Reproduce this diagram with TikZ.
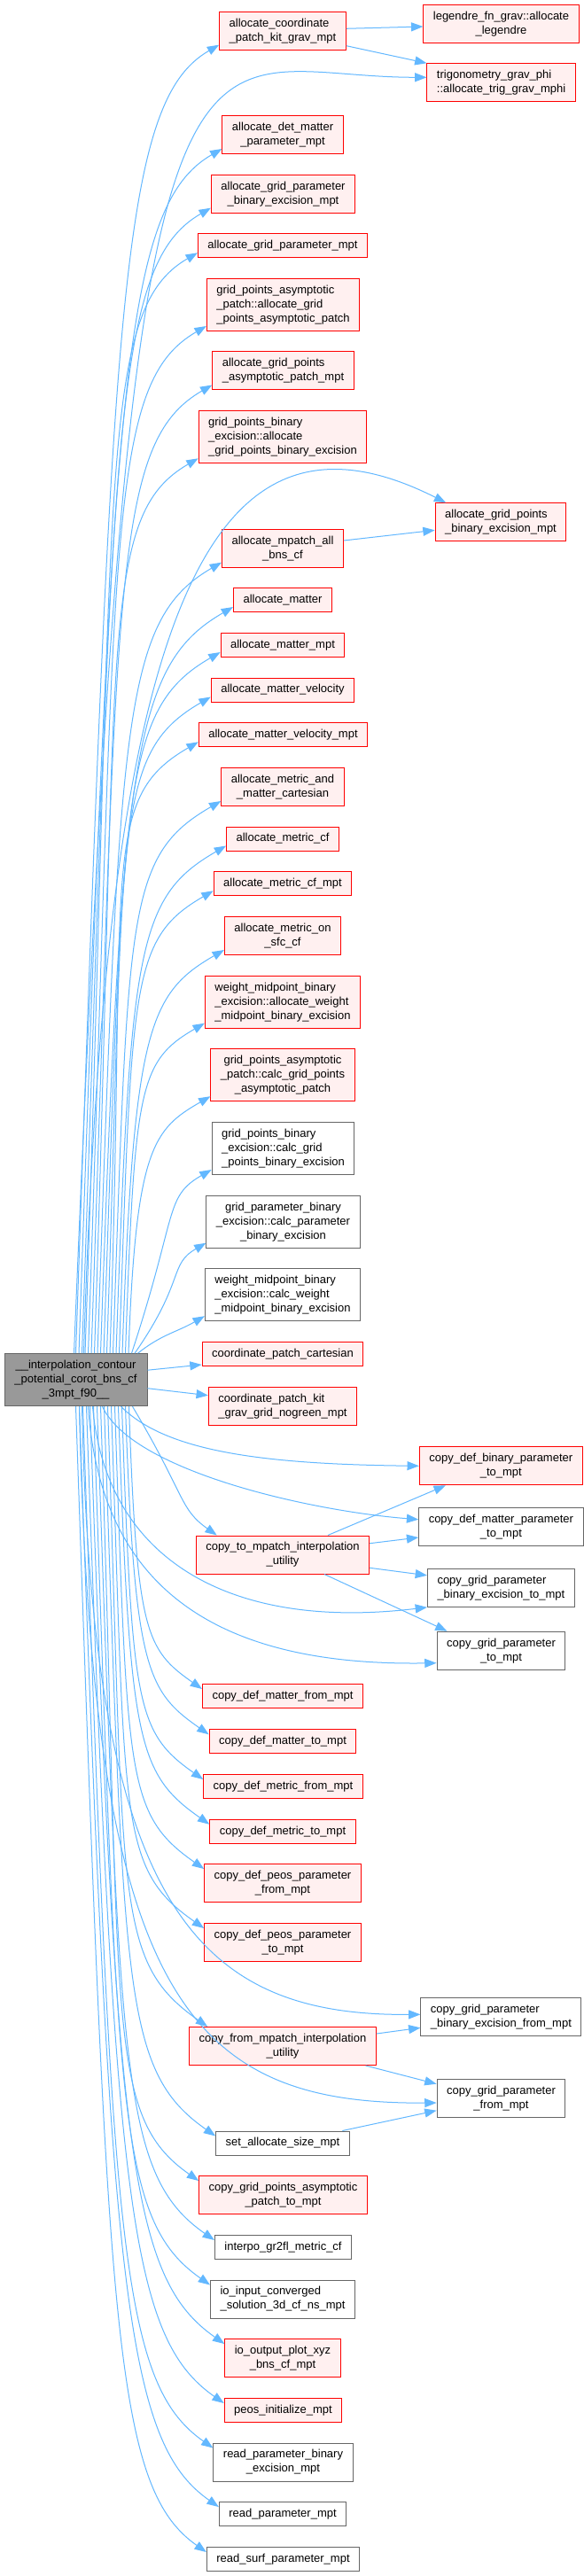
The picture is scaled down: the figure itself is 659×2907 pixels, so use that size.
\documentclass[tikz,border=0pt]{standalone}
\usepackage{fontspec}
\setmainfont{Liberation Sans}
\usetikzlibrary{arrows.meta}

\definecolor{callblue}{HTML}{63B8FF}
\definecolor{fnfill}{HTML}{FFF0F0}
\definecolor{fnred}{HTML}{FF0000}
\definecolor{extgray}{HTML}{666666}
\definecolor{rootfill}{HTML}{999999}

\tikzset{
  fn/.style={draw=fnred, fill=fnfill, line width=0.75pt, inner xsep=8.25pt, inner ysep=0pt,
    font=\fontsize{9.75pt}{12pt}\selectfont, align=center},
  ext/.style={fn, draw=extgray, fill=white},
  root/.style={fn, draw=extgray, fill=rootfill, minimum width=120.75pt},
  oneline/.style={minimum height=20.25pt},
  twoline/.style={minimum height=32.25pt},
  threeline/.style={minimum height=44.25pt},
  call/.style={draw=callblue, line width=0.75pt, -{Triangle[length=10pt,width=7.5pt]}},
}

\begin{document}
\begin{tikzpicture}[x=0.75pt, y=-0.75pt]
    \useasboundingbox (0,0) rectangle (659,2907);
    \fill[white] (0,0) rectangle (659,2907);

    % caller
    \node[root,threeline] (mainfn) at (85.5,1557.2) {\_\_interpolation\_contour\\\_potential\_corot\_bns\_cf\\\_3mpt\_f90\_\_};

    % called functions, middle column
    \node[fn,twoline,align=left] (ackg) at (319,34.7) {allocate\_coordinate\\\_patch\_kit\_grav\_mpt};
    \node[fn,twoline] (adm) at (319,152) {allocate\_det\_matter\\\_parameter\_mpt};
    \node[fn,twoline] (agpbe) at (319.5,218.7) {allocate\_grid\_parameter\\\_binary\_excision\_mpt};
    \node[fn,oneline] (agp) at (319,277.3) {allocate\_grid\_parameter\_mpt};
    \node[fn,threeline,align=left] (gpaa) at (319.5,344) {grid\_points\_asymptotic\\\_patch::allocate\_grid\\\_points\_asymptotic\_patch};
    \node[fn,twoline,align=left] (agpa) at (319.5,418.5) {allocate\_grid\_points\\\_asymptotic\_patch\_mpt};
    \node[fn,threeline,align=left] (gpbea) at (319,493.3) {grid\_points\_binary\\\_excision::allocate\\\_grid\_points\_binary\_excision};
    \node[fn,twoline] (ampa) at (319,618.7) {allocate\_mpatch\_all\\\_bns\_cf};
    \node[fn,oneline] (am) at (319,677) {allocate\_matter};
    \node[fn,oneline] (amm) at (319,728) {allocate\_matter\_mpt};
    \node[fn,oneline] (amv) at (319,778.5) {allocate\_matter\_velocity};
    \node[fn,oneline] (amvm) at (319.5,829.3) {allocate\_matter\_velocity\_mpt};
    \node[fn,twoline] (amet) at (319,888) {allocate\_metric\_and\\\_matter\_cartesian};
    \node[fn,oneline] (amcf) at (319,946.5) {allocate\_metric\_cf};
    \node[fn,oneline] (amcfm) at (319,997.3) {allocate\_metric\_cf\_mpt};
    \node[fn,twoline] (amsfc) at (319,1056) {allocate\_metric\_on\\\_sfc\_cf};
    \node[fn,threeline,align=left] (wmba) at (319,1130.7) {weight\_midpoint\_binary\\\_excision::allocate\_weight\\\_midpoint\_binary\_excision};
    \node[fn,threeline] (gpac) at (319,1213.2) {grid\_points\_asymptotic\\\_patch::calc\_grid\_points\\\_asymptotic\_patch};
    \node[ext,threeline,align=left] (gpbec) at (319.5,1296) {grid\_points\_binary\\\_excision::calc\_grid\\\_points\_binary\_excision};
    \node[ext,threeline] (gpbepc) at (319.5,1378.7) {grid\_parameter\_binary\\\_excision::calc\_parameter\\\_binary\_excision};
    \node[ext,threeline,align=left] (wmbc) at (319,1461.2) {weight\_midpoint\_binary\\\_excision::calc\_weight\\\_midpoint\_binary\_excision};
    \node[fn,oneline] (cpc) at (319,1528) {coordinate\_patch\_cartesian};
    \node[fn,twoline,align=left] (cknm) at (319,1586.7) {coordinate\_patch\_kit\\\_grav\_grid\_nogreen\_mpt};
    \node[fn,twoline] (c2m) at (319,1754.5) {copy\_to\_mpatch\_interpolation\\\_utility};
    \node[fn,oneline] (cdmf) at (319,1914) {copy\_def\_matter\_from\_mpt};
    \node[fn,oneline] (cdmt) at (319,1965.3) {copy\_def\_matter\_to\_mpt};
    \node[fn,oneline] (cdgf) at (319.5,2016) {copy\_def\_metric\_from\_mpt};
    \node[fn,oneline] (cdgt) at (319,2066.7) {copy\_def\_metric\_to\_mpt};
    \node[fn,twoline] (cdpf) at (319,2125) {copy\_def\_peos\_parameter\\\_from\_mpt};
    \node[fn,twoline] (cdpt) at (319,2192) {copy\_def\_peos\_parameter\\\_to\_mpt};
    \node[fn,twoline] (cfm) at (319,2309) {copy\_from\_mpatch\_interpolation\\\_utility};
    \node[ext,oneline] (sas) at (319,2418.5) {set\_allocate\_size\_mpt};
    \node[fn,twoline] (cgpa) at (319.5,2477) {copy\_grid\_points\_asymptotic\\\_patch\_to\_mpt};
    \node[ext,oneline] (igm) at (319.5,2536) {interpo\_gr2fl\_metric\_cf};
    \node[ext,twoline,align=left] (iic) at (319,2594.5) {io\_input\_converged\\\_solution\_3d\_cf\_ns\_mpt};
    \node[fn,twoline] (iop) at (319,2661) {io\_output\_plot\_xyz\\\_bns\_cf\_mpt};
    \node[fn,oneline] (pim) at (319.5,2720) {peos\_initialize\_mpt};
    \node[ext,twoline] (rpbe) at (319.5,2778.5) {read\_parameter\_binary\\\_excision\_mpt};
    \node[ext,oneline] (rp) at (319,2837) {read\_parameter\_mpt};
    \node[ext,oneline] (rsp) at (319.5,2888) {read\_surf\_parameter\_mpt};

    % right column
    \node[fn,twoline] (leg) at (565.5,26.7) {legendre\_fn\_grav::allocate\\\_legendre};
    \node[fn,twoline,align=left] (trig) at (565.6,93.3) {trigonometry\_grav\_phi\\::allocate\_trig\_grav\_mphi};
    \node[fn,twoline,align=left] (agpbm) at (565,589.3) {allocate\_grid\_points\\\_binary\_excision\_mpt};
    \node[fn,twoline] (cdbp) at (565.3,1654.3) {copy\_def\_binary\_parameter\\\_to\_mpt};
    \node[ext,twoline] (cdmp) at (565.4,1722.7) {copy\_def\_matter\_parameter\\\_to\_mpt};
    \node[ext,twoline,align=left] (cgbt) at (565.4,1791.8) {copy\_grid\_parameter\\\_binary\_excision\_to\_mpt};
    \node[ext,twoline] (cgt) at (565.5,1862.7) {copy\_grid\_parameter\\\_to\_mpt};
    \node[ext,twoline,align=left] (cgbf) at (565.4,2275.8) {copy\_grid\_parameter\\\_binary\_excision\_from\_mpt};
    \node[ext,twoline] (cgf) at (565.5,2368) {copy\_grid\_parameter\\\_from\_mpt};

    % calls going up
    \foreach \t/\D [count=\k] in {ackg/1478, adm/1361, agpbe/1294, agp/1243, gpaa/1161, agpa/1094,
        gpbea/1011, ampa/894, am/843, amm/793, amv/742, amvm/691, amet/625, amcf/574, amcfm/523,
        amsfc/457, wmba/374, gpac/291, gpbec/209, gpbepc/126, wmbc/43} {
      \pgfmathsetmacro\ang{min(88,30+0.2*\D)}
      \pgfmathsetmacro\ax{0.8*\D*cos(\ang)}
      \pgfmathsetmacro\ay{-0.8*\D*sin(\ang)}
      \pgfmathsetmacro\bl{min(0.15*\D+30,130)}
      \draw[call] ([shift={(77.5+3.5*\k,0)}]mainfn.north west) .. controls +(\ax,\ay)
        and ([shift={(-0.866*\bl,0.5*\bl-6)}]\t.south west) .. ([shift={(0,-6)}]\t.south west);
    }

    % calls going down
    \foreach \t/\D/\ex/\ey [count=\k] in {rsp/1294/0/6, rp/1243/0/6, rpbe/1176/0/6, pim/1126/0/6,
        iop/1059/0/6, iic/992/0/6, igm/942/0/6, cgpa/875/0/6, sas/824/0/6, cfm/701/21/0,
        cdpt/590/0/6, cdpf/523/0/6, cdgt/472/0/6, cdgf/421/0/6, cdmt/371/0/6, cdmf/319/0/6,
        c2m/146/24/0} {
      \pgfmathsetmacro\ang{min(88,30+0.2*\D)}
      \pgfmathsetmacro\ax{0.8*\D*cos(\ang)}
      \pgfmathsetmacro\ay{0.8*\D*sin(\ang)}
      \pgfmathsetmacro\bl{min(0.15*\D+30,130)}
      \draw[call] ([shift={(77+4*\k,0)}]mainfn.south west) .. controls +(\ax,\ay)
        and ([shift={(\ex-0.819*\bl,\ey-0.574*\bl)}]\t.north west) .. ([shift={(\ex,\ey)}]\t.north west);
    }

    % straight calls to the right
    \draw[call] ([shift={(0,-11)}]mainfn.east) -- ([shift={(0,12)}]cpc.west);
    \draw[call] ([shift={(0,9.5)}]mainfn.east) -- ([shift={(0,-12)}]cknm.west);

    % long calls into the right column
    \draw[call] ([shift={(79,0)}]mainfn.north west) .. controls +(66,-1628)
      and ([shift={(-281.6,-6)}]trig.west) .. ([shift={(0,-6)}]trig.west);
    \draw[call] ([shift={(90,0)}]mainfn.north west) .. controls +(25,-828)
      and ([shift={(-261,-138)}]agpbm.north west) .. ([shift={(12.6,0)}]agpbm.north west);
    \draw[call] ([shift={(132,0)}]mainfn.south west) .. controls +(50,50)
      and ([shift={(-180,-2)}]cdbp.west) .. (cdbp.west);
    \draw[call] ([shift={(111,0)}]mainfn.south west) .. controls +(34,73)
      and ([shift={(-122.7,-17.7)}]cdmp.west) .. ([shift={(0,-8)}]cdmp.west);
    \draw[call] ([shift={(100,0)}]mainfn.south west) .. controls +(15,173)
      and ([shift={(-222,26.7)}]cgbt.south west) .. (cgbt.south west);
    \draw[call] ([shift={(95,0)}]mainfn.south west) .. controls +(15,223)
      and ([shift={(-224,17.3)}]cgt.west) .. ([shift={(0,14)}]cgt.west);
    \draw[call] ([shift={(88,0)}]mainfn.south west) .. controls +(12,563)
      and ([shift={(-254.4,-0.8)}]cgbf.west) .. ([shift={(0,-2.5)}]cgbf.west);
    \draw[call] ([shift={(85,0)}]mainfn.south west) .. controls +(15,663)
      and ([shift={(-284,7)}]cgf.west) .. ([shift={(0,5)}]cgf.west);

    % second level calls
    \draw[call] ([shift={(0,-2.4)}]ackg.east) -- ([shift={(0,3.3)}]leg.west);
    \draw[call] ([shift={(0,17)}]ackg.east) -- (trig.north west);
    \draw[call] ([shift={(0,-8.7)}]ampa.east) -- ([shift={(0,9)}]agpbm.west);
    \draw[call] ([shift={(51,0)}]c2m.north) -- ([shift={(30,0)}]cdbp.south west);
    \draw[call] ([shift={(0,-12.8)}]c2m.east) -- ([shift={(0,12.3)}]cdmp.west);
    \draw[call] ([shift={(0,14.8)}]c2m.east) -- ([shift={(0,-14)}]cgbt.west);
    \draw[call] ([shift={(47,0)}]c2m.south) -- ([shift={(12,0)}]cgt.north west);
    \draw[call] ([shift={(0,-14)}]cfm.east) -- ([shift={(0,12.5)}]cgbf.west);
    \draw[call] ([shift={(93.6,0)}]cfm.south) -- ([shift={(0,-16.3)}]cgf.west);
    \draw[call] ([shift={(-8.5,0)}]sas.north east) -- ([shift={(0,13.7)}]cgf.west);
\end{tikzpicture}
\end{document}
